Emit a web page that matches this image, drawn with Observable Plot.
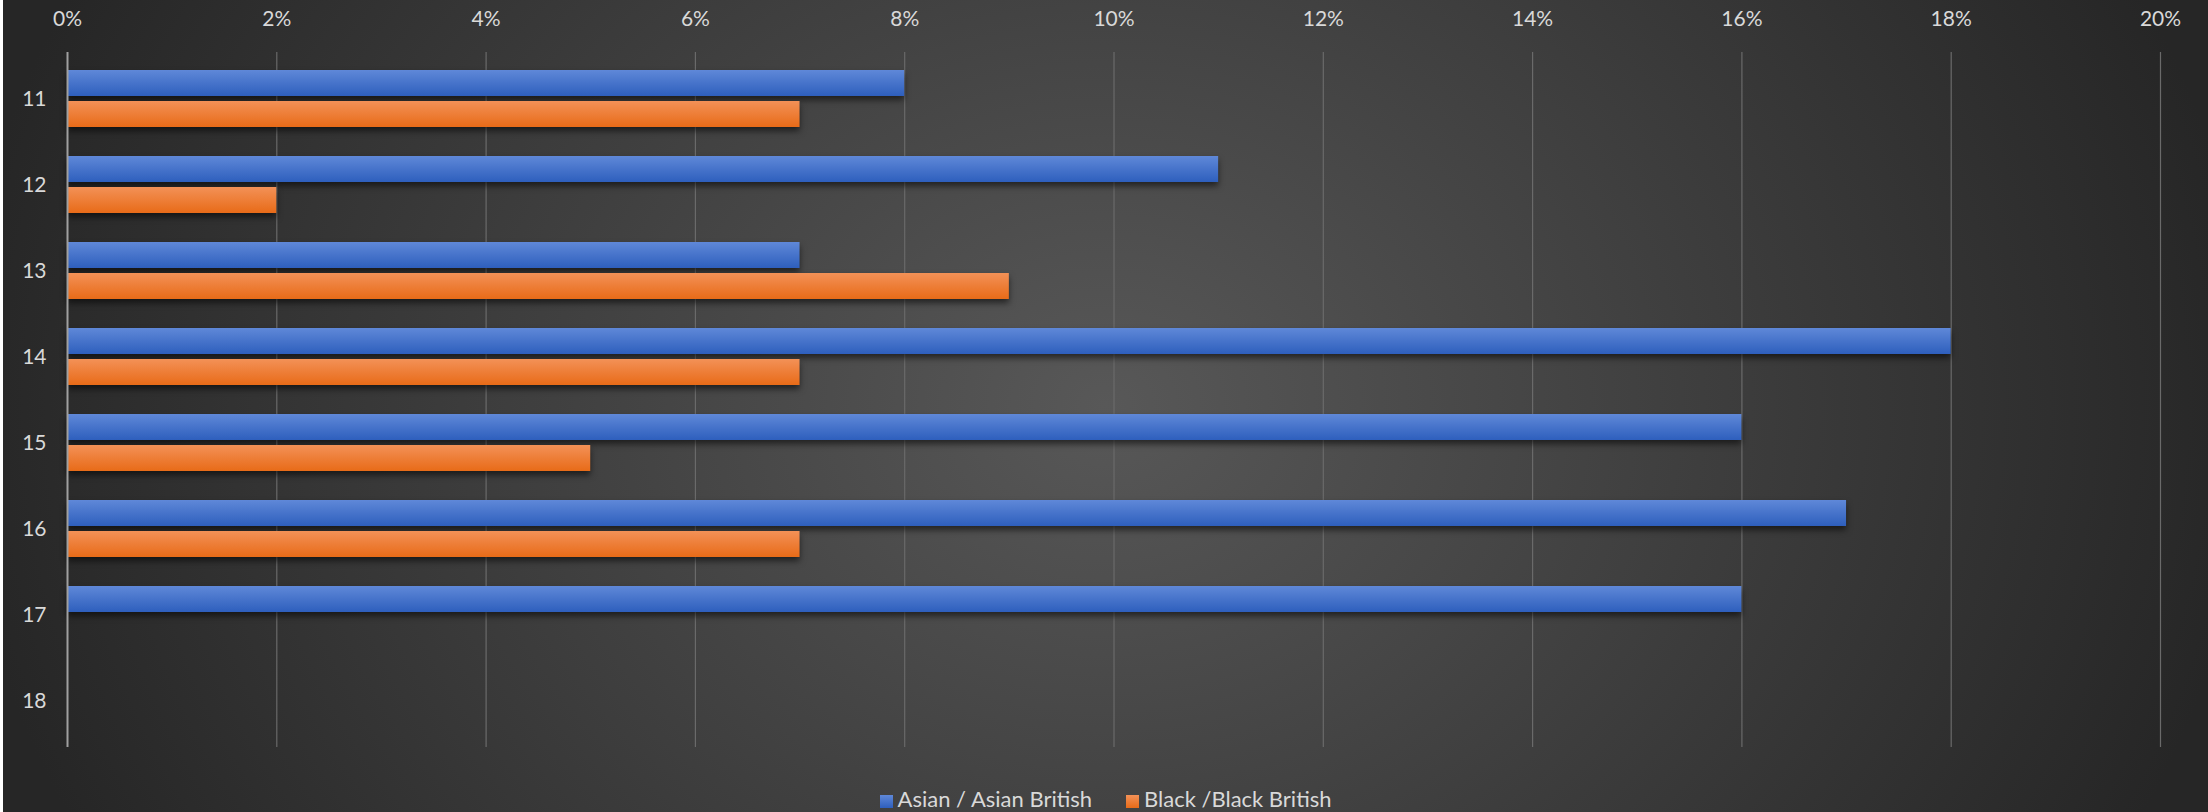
<!DOCTYPE html>
<html>
<head>
<meta charset="utf-8">
<script src="https://cdn.jsdelivr.net/npm/d3@7"></script>
<script src="https://cdn.jsdelivr.net/npm/@observablehq/plot@0.6"></script>
<style>
  html, body { margin: 0; padding: 0; background: #ffffff; }
  #chart {
    position: absolute; left: 3px; top: 0; width: 2205px; height: 812px;
    background: radial-gradient(ellipse 1150px 950px at 50% 50%, #585858 0%, #262626 100%);
    font-family: Lato, "Open Sans", sans-serif;
  }
  #chart svg { position: absolute; left: 0; top: 0; display: block; }
  #legend {
    position: absolute; left: 0; top: 785px; width: 2205px; text-align: center;
    color: #d9d9d9; font-size: 22px; font-family: Lato, "Open Sans", sans-serif;
  }
  #legend span.item { margin: 0 17px; white-space: nowrap; }
  #legend span.sw { display: inline-block; width: 13px; height: 13px; margin-right: 5px; vertical-align: -1px; }
  .bars { filter: drop-shadow(0px 4px 3px rgba(0,0,0,0.55)); }
</style>
</head>
<body>
<div id="chart"></div>
<script>
const categories = ["11", "12", "13", "14", "15", "16", "17", "18"];
const seriesNames = ["Asian / Asian British", "Black /Black British"];
const asian = [0.08, 0.11, 0.07, 0.18, 0.16, 0.17, 0.16, null];
const black = [0.07, 0.02, 0.09, 0.07, 0.05, 0.07, null, null];
const xTicks = [0, 0.02, 0.04, 0.06, 0.08, 0.10, 0.12, 0.14, 0.16, 0.18, 0.20];

const asianData = categories.map((c, i) => ({category: c, value: asian[i]})).filter(d => d.value != null);
const blackData = categories.map((c, i) => ({category: c, value: black[i]})).filter(d => d.value != null);

const plot = Plot.plot({
  width: 2205,
  height: 770,
  marginLeft: 64,
  marginRight: 48,
  marginTop: 52,
  marginBottom: 23,
  style: {background: "transparent", color: "#d9d9d9", fontSize: "21px", fontFamily: "Lato, 'Open Sans', sans-serif"},
  x: {domain: [0, 0.20], axis: null},
  y: {domain: categories, padding: 0, axis: null},
  marks: [
    Plot.ruleX(xTicks.slice(1), {stroke: "#6a6a6a", strokeWidth: 1.2}),
    Plot.barX(asianData, {x: "value", y: "category", fill: "url(#gradBlue)", insetTop: 14, insetBottom: 46, className: "bars"}),
    Plot.barX(blackData, {x: "value", y: "category", fill: "url(#gradOrange)", insetTop: 45, insetBottom: 15, className: "bars"}),
    Plot.ruleX([0], {stroke: "#a0a0a0", strokeWidth: 2}),
    Plot.axisX({anchor: "top", ticks: xTicks, tickSize: 0, tickPadding: 27, label: null, tickFormat: d => Math.round(d * 100) + "%", fill: "#d9d9d9", fontSize: 21}),
    Plot.axisY({anchor: "left", tickSize: 0, tickPadding: 21, label: null, fill: "#d9d9d9", fontSize: 21})
  ]
});

const ns = "http://www.w3.org/2000/svg";
const defs = document.createElementNS(ns, "defs");
function grad(id, top, bottom) {
  const g = document.createElementNS(ns, "linearGradient");
  g.setAttribute("id", id);
  g.setAttribute("x1", "0"); g.setAttribute("y1", "0");
  g.setAttribute("x2", "0"); g.setAttribute("y2", "1");
  [[0, top], [1, bottom]].forEach(([o, c]) => {
    const s = document.createElementNS(ns, "stop");
    s.setAttribute("offset", o);
    s.setAttribute("stop-color", c);
    g.appendChild(s);
  });
  defs.appendChild(g);
}
grad("gradBlue", "#5f88d8", "#2e5fbd");
grad("gradOrange", "#f39157", "#e86b18");
plot.insertBefore(defs, plot.firstChild);

const chart = document.getElementById("chart");
chart.appendChild(plot);

const legend = document.createElement("div");
legend.id = "legend";
const swatches = ["linear-gradient(#5f88d8, #2e5fbd)", "linear-gradient(#f39157, #e86b18)"];
legend.innerHTML = seriesNames.map((n, i) =>
  `<span class="item"><span class="sw" style="background:${swatches[i]}"></span>${n}</span>`).join("");
chart.appendChild(legend);
</script>
</body>
</html>
